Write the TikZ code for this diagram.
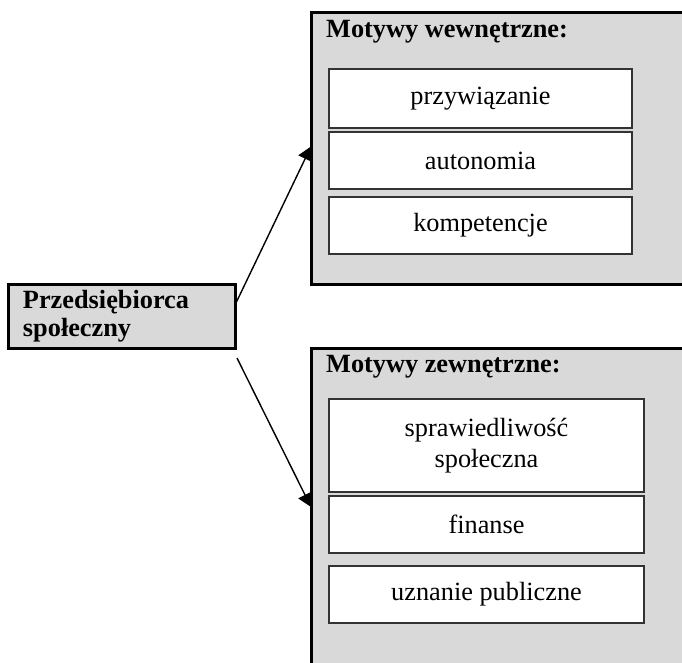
\documentclass[tikz,border=0pt]{standalone}
\usepackage{fontspec}
\setmainfont{Liberation Serif}
\usetikzlibrary{positioning,arrows.meta}
\tikzset{
  grp/.style ={draw=black, line width=3pt, fill=black!15, outer sep=0pt, inner sep=0pt, anchor=north west},
  mot/.style ={draw=black!80, line width=1.4pt, fill=white, outer sep=0pt, inner sep=0pt, align=center, minimum width=303pt, minimum height=57pt},
  hdr/.style ={font=\bfseries, anchor=base west, inner sep=0pt},
  src/.style ={draw=black, line width=3pt, fill=black!15, outer sep=0pt, inner xsep=15pt, inner ysep=0pt, anchor=north west, align=left, font=\fontsize{26.3}{28}\selectfont\bfseries, text width=197pt, minimum height=63pt},
  e/.style   ={-{Triangle[length=13.5pt,width=15pt]}, line width=1.4pt},
}

\begin{document}
\fontsize{26.3}{30}\selectfont
\begin{tikzpicture}[x=1pt,y=1pt]
\useasboundingbox (0,0) rectangle (682,662);
\clip (0,0) rectangle (682,662);
% left box
\node[src] (ps) at (8,377) {Przedsiębiorca\\społeczny};
% groups (cut off on the right and at the bottom)
\node[grp, minimum width=400pt, minimum height=272pt] (wew) at (311,649) {};
\node[grp, minimum width=400pt, minimum height=400pt] (zew) at (311,314) {};
\node[hdr] (hw) at ([shift={(15pt,-25pt)}]wew.north west) {Motywy wewnętrzne:};
\node[hdr] (hz) at ([shift={(15pt,-24pt)}]zew.north west) {Motywy zewnętrzne:};
% inner motives
\node[mot, anchor=north west, minimum height=59pt] (prz) at (329,593) {przywiązanie};
\node[mot, below=4pt of prz] (aut) {autonomia};
\node[mot, below=8pt of aut] (kom) {kompetencje};
\node[mot, anchor=north west, minimum width=315pt, minimum height=93pt, font=\fontsize{26.3}{31.6}\selectfont] (spr) at (329,263) {sprawiedliwość\\społeczna};
\node[mot, minimum width=315pt, below=4pt of spr] (fin) {finanse};
\node[mot, minimum width=315pt, below=13pt of fin] (uzn) {uznanie publiczne};
% arrows
\draw[e] ([yshift=11.5pt]ps.east) -- ([yshift=2.5pt]wew.west);
\draw[e] ([shift={(2pt,-10pt)}]ps.south east) -- ([yshift=-159pt]zew.north west);
\end{tikzpicture}
\end{document}
